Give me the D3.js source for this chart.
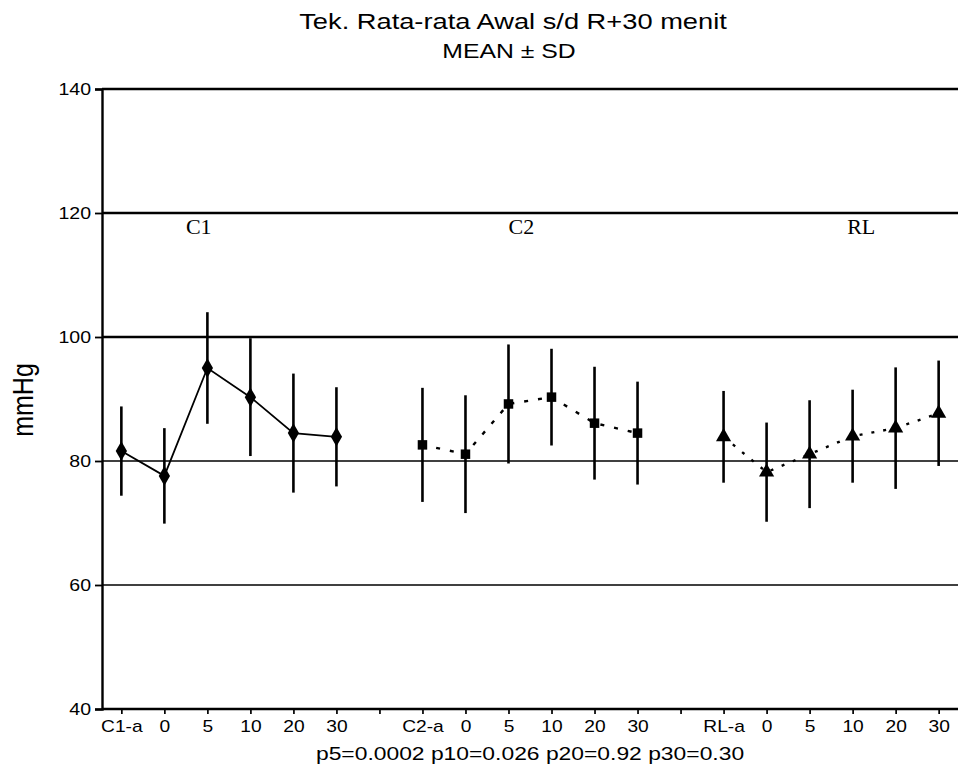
<!DOCTYPE html>
<html>
<head>
<meta charset="utf-8">
<script src="https://cdn.jsdelivr.net/npm/d3@7"></script>
<style>
  body { margin: 0; background: #fff; }
  svg { display: block; }
  text { font-family: "Liberation Sans", Arial, sans-serif; fill: #000; }
</style>
</head>
<body>
<svg id="chart" width="958" height="766"></svg>
<script>
// x slots: three groups of six, with an empty slot between groups
const tickLabels = ["C1-a", "0", "5", "10", "20", "30", "",
                    "C2-a", "0", "5", "10", "20", "30", "",
                    "RL-a", "0", "5", "10", "20", "30"];
const groupNames = ["C1", "C2", "RL"];
const groupLabelAt = [1.8, 9.3, 17.2];

const c1Mean = [81.6, 77.6, 95.0, 90.3, 84.5, 83.9];
const c1Sd   = [7.2, 7.7, 9.0, 9.5, 9.6, 8.0];
const c2Mean = [82.6, 81.1, 89.2, 90.3, 86.1, 84.5];
const c2Sd   = [9.2, 9.5, 9.6, 7.8, 9.1, 8.3];
const rlMean = [83.9, 78.2, 81.1, 84.0, 85.3, 87.7];
const rlSd   = [7.4, 8.0, 8.7, 7.5, 9.8, 8.5];

const yTicks = [40, 60, 80, 100, 120, 140];
const pText = "p5=0.0002 p10=0.026 p20=0.92 p30=0.30";

const svg = d3.select('#chart');
const plotLeft = 102, plotRight = 958, plotTop = 89, plotBottom = 709;

const x = d3.scaleLinear().domain([-0.45, 19.45]).range([plotLeft, plotRight]);
const y = d3.scaleLinear().domain([40, 140]).range([plotBottom, plotTop]);

// text widened a bit, like the lettering in the scan
function wideText(cx, cy, size, stretch, str) {
  return svg.append('text')
    .attr('transform', `translate(${cx},${cy}) scale(${stretch},1)`)
    .attr('text-anchor', 'middle')
    .style('font-size', size + 'px')
    .text(str);
}

// title
wideText(513, 29, 22, 1.24, 'Tek. Rata-rata Awal s/d R+30 menit');
wideText(509, 58, 20, 1.24, 'MEAN ± SD');

// horizontal lines across the plot
svg.append('g')
  .selectAll('line')
  .data(yTicks.filter(v => v > 40))
  .enter().append('line')
  .attr('x1', plotLeft).attr('x2', plotRight)
  .attr('y1', d => y(d)).attr('y2', d => y(d))
  .attr('stroke', '#000')
  .attr('stroke-width', d => d >= 100 ? 2.6 : 1.7);

// y axis
const yAxis = svg.append('g')
  .attr('transform', `translate(${plotLeft},0)`)
  .call(d3.axisLeft(y).tickValues(yTicks).tickSize(7));
yAxis.select('.domain').attr('stroke-width', 2.4);
yAxis.selectAll('.tick line').attr('stroke-width', 1.8);
yAxis.selectAll('text')
  .attr('x', null).attr('dy', '0.36em')
  .attr('transform', 'translate(-11,0) scale(1.22,1)')
  .style('font-size', '16px');

// x axis
const xAxis = svg.append('g')
  .attr('transform', `translate(0,${plotBottom})`)
  .call(d3.axisBottom(x).tickValues(d3.range(tickLabels.length))
    .tickFormat(i => tickLabels[i]).tickSize(5).tickSizeOuter(0));
xAxis.select('.domain').attr('d', `M${plotLeft},0H${plotRight}`).attr('stroke-width', 2.4);
xAxis.selectAll('.tick line').attr('stroke-width', 1.7);
xAxis.selectAll('text')
  .attr('y', null).attr('dy', null)
  .attr('transform', 'translate(0,23) scale(1.2,1)')
  .style('font-size', '16px');

// y label
svg.append('text')
  .attr('transform', 'translate(33,400) rotate(-90) scale(1,1.2)')
  .attr('text-anchor', 'middle')
  .style('font-size', '25px')
  .text('mmHg');

// p values
wideText(530, 760, 18, 1.27, pText);

// group labels
svg.append('g')
  .selectAll('text')
  .data(groupNames)
  .enter().append('text')
  .attr('x', (d, i) => x(groupLabelAt[i]))
  .attr('y', 234)
  .attr('text-anchor', 'middle')
  .style('font-family', '"Liberation Serif", "Times New Roman", serif')
  .style('font-size', '22px')
  .text(d => d);

const series = [
  { mean: c1Mean, sd: c1Sd, start: 0, dash: null, shape: d3.symbolDiamond, size: 110 },
  { mean: c2Mean, sd: c2Sd, start: 7, dash: '4,10', shape: d3.symbolSquare, size: 90 },
  { mean: rlMean, sd: rlSd, start: 14, dash: '3,9', shape: d3.symbolTriangle, size: 100 }
];

const line = d3.line().x(d => x(d.i)).y(d => y(d.m));

series.forEach(s => {
  const pts = s.mean.map((m, k) => ({ i: s.start + k, m, sd: s.sd[k] }));
  const g = svg.append('g');

  g.selectAll('.err')
    .data(pts)
    .enter().append('line')
    .attr('class', 'err')
    .attr('x1', d => x(d.i)).attr('x2', d => x(d.i))
    .attr('y1', d => y(d.m - d.sd)).attr('y2', d => y(d.m + d.sd))
    .attr('stroke', '#000')
    .attr('stroke-width', 2.6);

  g.append('path')
    .datum(pts)
    .attr('d', line)
    .attr('fill', 'none')
    .attr('stroke', '#000')
    .attr('stroke-width', s.dash ? 2.4 : 1.8)
    .attr('stroke-dasharray', s.dash);

  g.selectAll('.mk')
    .data(pts)
    .enter().append('path')
    .attr('class', 'mk')
    .attr('transform', d => `translate(${x(d.i)},${y(d.m)})`)
    .attr('d', d3.symbol().type(s.shape).size(s.size))
    .attr('fill', '#000');
});
</script>
</body>
</html>
